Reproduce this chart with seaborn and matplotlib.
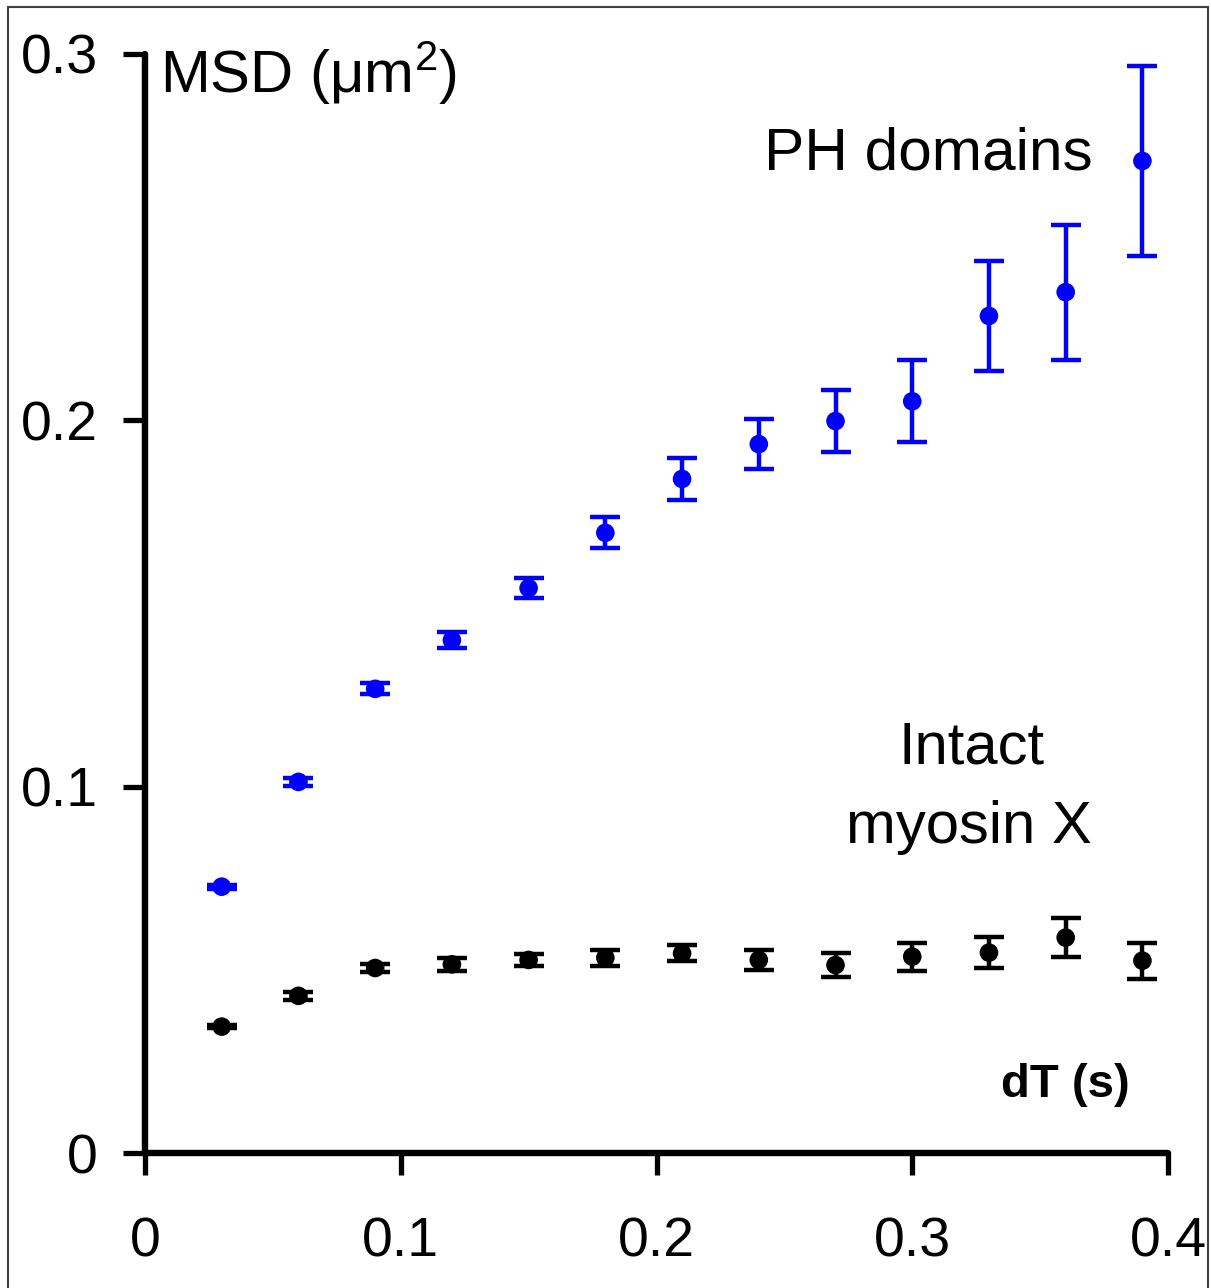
import numpy as np
import pandas as pd
import matplotlib
matplotlib.use("Agg")
import matplotlib.pyplot as plt
from matplotlib.patches import Rectangle
import seaborn as sns

# Lag times (s)
dt = [0.03, 0.06, 0.09, 0.12, 0.15, 0.18, 0.21, 0.24, 0.27, 0.30, 0.33, 0.36, 0.39]

# Mean squared displacement (um^2) and its error for each construct
ph_msd = [0.0727, 0.1013, 0.1267, 0.1400, 0.1542, 0.1693, 0.1840, 0.1935,
          0.1998, 0.2052, 0.2285, 0.2350, 0.2708]
ph_err = [0.0005, 0.0012, 0.0015, 0.0022, 0.0027, 0.0042, 0.0058, 0.0068,
          0.0085, 0.0112, 0.0149, 0.0184, 0.0260]

myo_msd = [0.0345, 0.0429, 0.0505, 0.0515, 0.0527, 0.0533, 0.0545, 0.0527,
           0.0513, 0.0536, 0.0547, 0.0588, 0.0525]
myo_err = [0.0005, 0.0011, 0.0011, 0.0017, 0.0017, 0.0022, 0.0022, 0.0027,
           0.0032, 0.0038, 0.0043, 0.0053, 0.0049]

series_names = ["PH domains", "Intact myosin X"]
series_colors = {"PH domains": "#0000ff", "Intact myosin X": "#000000"}

df = pd.DataFrame({
    "dT": dt * 2,
    "MSD": ph_msd + myo_msd,
    "err": ph_err + myo_err,
    "construct": [series_names[0]] * len(dt) + [series_names[1]] * len(dt),
})

sns.set_theme(style="white")
plt.rcParams["font.family"] = ["Liberation Sans", "DejaVu Sans"]
plt.rcParams["mathtext.fontset"] = "custom"
plt.rcParams["mathtext.rm"] = "Liberation Sans"
plt.rcParams["mathtext.it"] = "Liberation Sans"

W, H = 1211, 1288
fig = plt.figure(figsize=(W / 100, H / 100), dpi=100)
ax = fig.add_axes([145 / W, 1 - 1153 / H, (1168 - 145) / W, (1153 - 54) / H])

# error bars first, markers on top
for name in series_names:
    sub = df[df["construct"] == name]
    ax.errorbar(sub["dT"], sub["MSD"], yerr=sub["err"], fmt="none",
                ecolor=series_colors[name], elinewidth=3.2, capsize=11,
                capthick=3.2, zorder=2)

sns.scatterplot(data=df, x="dT", y="MSD", hue="construct",
                palette=series_colors, s=180, edgecolor="none",
                legend=False, ax=ax, zorder=3)

ax.set_xlim(0, 0.4)
ax.set_ylim(0, 0.3)
ax.set_xticks([0, 0.1, 0.2, 0.3, 0.4])
ax.set_xticklabels(["0", "0.1", "0.2", "0.3", "0.4"], fontsize=40)
ax.set_yticks([0, 0.1, 0.2, 0.3])
ax.set_yticklabels(["0", "0.1", "0.2", "0.3"], fontsize=40)
ax.set_xlabel("")
ax.set_ylabel("")

for side in ["top", "right"]:
    ax.spines[side].set_visible(False)
for side in ["left", "bottom"]:
    ax.spines[side].set_linewidth(4.6)
    ax.spines[side].set_color("black")
    ax.spines[side].set_capstyle("round")

ax.tick_params(axis="both", direction="out", length=16, width=3.8,
               color="black", labelcolor="black")
ax.tick_params(axis="y", pad=18, left=True)
ax.tick_params(axis="x", pad=30, bottom=True)
for t in ax.xaxis.get_ticklines() + ax.yaxis.get_ticklines():
    t.set_solid_capstyle("round")

# annotations in figure pixel positions
def fx(px):
    return px / W

def fy(py):
    return 1 - py / H

fig.text(fx(160), fy(93), r"MSD (μm$^{2}$)", fontsize=43, color="black",
         ha="left", va="baseline")
fig.text(fx(1093), fy(170), "PH domains", fontsize=43.5, color="black",
         ha="right", va="baseline")
fig.text(fx(972), fy(763), "Intact", fontsize=43, color="black",
         ha="center", va="baseline")
fig.text(fx(969), fy(843), "myosin X", fontsize=43, color="black",
         ha="center", va="baseline")
fig.text(fx(1130), fy(1097), "dT (s)", fontsize=34, fontweight="bold",
         color="black", ha="right", va="baseline")

# thin frame around the figure
fig.patches.append(Rectangle((8 / W, -0.01), (1208 - 8) / W, 1 - 7 / H + 0.01,
                             transform=fig.transFigure, fill=False,
                             edgecolor="#404040", linewidth=1.5))

fig.savefig("out.png", dpi=100, facecolor="white")
